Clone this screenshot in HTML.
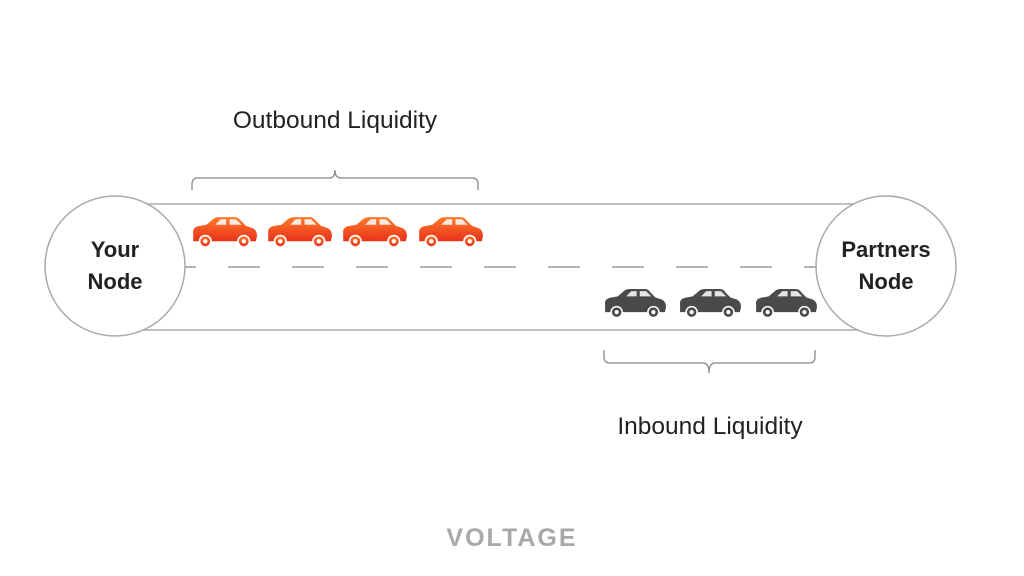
<!DOCTYPE html>
<html><head><meta charset="utf-8"><style>
body{margin:0;background:#fff}
svg{display:block}
text{font-family:"Liberation Sans",sans-serif}
</style></head><body>
<svg width="1024" height="576" viewBox="0 0 1024 576">
<defs>
<linearGradient id="og" x1="0" y1="0" x2="0" y2="1"><stop offset="0" stop-color="#ff7a2a"/><stop offset="1" stop-color="#e8321c"/></linearGradient>
<g id="car">
<path d="M2,16 Q1,10 8,9 L14,8 L21,2 Q23,1 26,1 L40,1 Q43,1 45,4 L50,9 L56,11 Q60,13 60,18 L59,23 L2,23 Z"/>
<path d="M22,8 L27,3 L32,3 L32,8 Z M35,3 L41,3 L46,8 L35,8 Z" fill="#fff" opacity="0.85"/>
<circle cx="13" cy="23" r="6" fill="#fff"/><circle cx="13" cy="23" r="4.5" fill="inherit"/><circle cx="13" cy="23" r="2" fill="#fff"/>
<circle cx="48" cy="23" r="6" fill="#fff"/><circle cx="48" cy="23" r="4.5" fill="inherit"/><circle cx="48" cy="23" r="2" fill="#fff"/>
</g>
</defs>
<line x1="115" y1="204" x2="886" y2="204" stroke="#aaa" stroke-width="1.5"/>
<line x1="115" y1="330" x2="886" y2="330" stroke="#aaa" stroke-width="1.5"/>
<line x1="164" y1="267" x2="830" y2="267" stroke="#999" stroke-width="1.5" stroke-dasharray="32 32"/>
<circle cx="115" cy="266" r="70" fill="#fff" stroke="#aaa" stroke-width="1.5"/>
<circle cx="886" cy="266" r="70" fill="#fff" stroke="#aaa" stroke-width="1.5"/>
<text x="115" y="257" font-size="22" font-weight="bold" text-anchor="middle" fill="#222">Your</text>
<text x="115" y="289" font-size="22" font-weight="bold" text-anchor="middle" fill="#222">Node</text>
<text x="886" y="257" font-size="22" font-weight="bold" text-anchor="middle" fill="#222">Partners</text>
<text x="886" y="289" font-size="22" font-weight="bold" text-anchor="middle" fill="#222">Node</text>
<g fill="url(#og)">
<use href="#car" transform="translate(191,216) scale(1.1)"/><use href="#car" transform="translate(266,216) scale(1.1)"/><use href="#car" transform="translate(341,216) scale(1.1)"/><use href="#car" transform="translate(417,216) scale(1.1)"/>
</g>
<g fill="#4a4a4a">
<use href="#car" transform="translate(603,288) scale(1.05)"/><use href="#car" transform="translate(678,288) scale(1.05)"/><use href="#car" transform="translate(754,288) scale(1.05)"/>
</g>
<path d="M192,190 L192,184 Q192,178 198,178 L329,178 Q335,178 335,170 Q335,178 341,178 L472,178 Q478,178 478,184 L478,190" fill="none" stroke="#888" stroke-width="1.3"/>
<path d="M604,350 L604,357 Q604,363 610,363 L703,363 Q709,363 709,373 Q709,363 715,363 L809,363 Q815,363 815,357 L815,350" fill="none" stroke="#888" stroke-width="1.3"/>
<text x="335" y="128" font-size="24.5" text-anchor="middle" fill="#222">Outbound Liquidity</text>
<text x="710" y="434" font-size="24.5" text-anchor="middle" fill="#222">Inbound Liquidity</text>
<text x="512" y="546" font-size="25" font-weight="bold" text-anchor="middle" fill="#a8a8a8" letter-spacing="2">VOLTAGE</text>
</svg>
</body></html>
